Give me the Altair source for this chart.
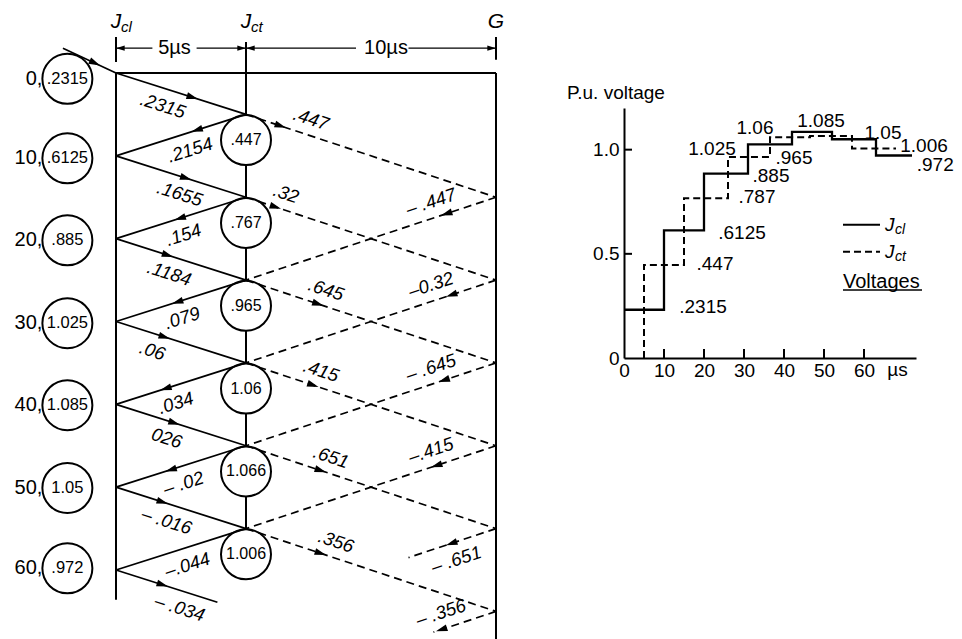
import math
import altair as alt
import pandas as pd

FONT = "Liberation Sans"

# ---------------- data ----------------
jcl_times = [0, 10, 20, 30, 40, 50, 60]
jcl_values = [0.2315, 0.6125, 0.885, 1.025, 1.085, 1.05, 0.972]
jcl_texts = [".2315", ".6125", ".885", "1.025", "1.085", "1.05", ".972"]
left_circle_t = [0.7, 10.3, 20.2, 30.2, 40.1, 50.1, 59.8]

jct_times = [5, 15, 25, 35, 45, 55]
jct_values = [0.447, 0.767, 0.965, 1.06, 1.066, 1.006]
jct_texts = [".447", ".767", ".965", "1.06", "1.066", "1.006"]

solid_down_labels = [".2315", ".1655", ".1184", ".06", "026", "– .016", "– .034"]
solid_up_labels = [".2154", ".154", ".079", ".034", "– .02", "–.044"]
dashed_down_labels = [".447", ".32", ".645", ".415", ".651", ".356"]
dashed_up_labels = ["– .447", "–0.32", "– .645", "–.415", "– .651", "– .356"]

# travelled length (µs) of each wave; the last ones are drawn only partly
solid_down_len = [5, 5, 5, 5, 5, 5, 3.9]
dashed_up_len = [10, 10, 10, 10, 3.5, 2.5]

# where the arrowheads / labels sit along each wave (fraction of full trip)
solid_down_arrow = [0.63, 0.58, 0.44, 0.415, 0.49, 0.4, 0.4]
solid_up_arrow = [0.42, 0.55, 0.57, 0.66, 0.62, None]
dashed_down_arrow = [0.16, 0.14, 0.31, 0.29, 0.32, 0.32]
dashed_up_arrow = [0.22, 0.2, 0.23, 0.26, 0.2, 0.24]
solid_down_labpos = [0.4, 0.53, 0.45, 0.32, 0.43, 0.43, 0.53]
solid_up_labpos = [0.47, 0.52, 0.53, 0.58, 0.52, 0.49]
dashed_down_labpos = [0.24, 0.14, 0.30, 0.28, 0.32, 0.34]
dashed_up_labpos = [0.24, 0.24, 0.24, 0.24, 0.18, 0.2]
dashed_up_side = ["above", "above", "above", "above", "below", "above"]

# incoming surge (start point)
incoming_start = (-2.04, -3.0)

# step chart
jcl_step_times = [0, 10, 20, 31, 42, 52, 63, 72]
jct_step_times = [5, 5, 15, 26, 36.5, 46.5, 57, 68]
step_label_text = [".2315", ".447", ".6125", ".787", ".885", "1.025", ".965",
                   "1.06", "1.085", "1.05", "1.006", ".972"]
step_label_t = [19.75, 22.75, 29.5, 33.25, 36.75, 22, 42.5, 32.75, 49.25, 64.75, 75.0, 77.8]
step_label_v = [0.245, 0.452, 0.601, 0.774, 0.875, 1.005, 0.962, 1.106, 1.14, 1.082, 1.02, 0.928]
x_ticks = [0, 10, 20, 30, 40, 50, 60]
y_ticks = [0, 0.5, 1.0]

# ---------------- layout ----------------
W, H = 946, 631
LAT_XR = [108, 238, 488]
LAT_YR = [65, 562]
PX_S = (LAT_XR[1] - LAT_XR[0]) / 5.0
PX_D = (LAT_XR[2] - LAT_XR[1]) / 10.0
PY = (LAT_YR[1] - LAT_YR[0]) / 60.0
CIRCLE_P = -1.87
CIRCLE_DROP = 3.1
ARROW = "M0,0L-1,-0.3L-1,0.3Z"

segs, arrows, labs = [], [], []


def wave(p0, t0, d, length, nominal, pxu, dash, af, lf, text, side):
    segs.append(dict(p1=p0, t1=t0, p2=p0 + d * length, t2=t0 + length, dash=dash))
    a_ang = math.degrees(math.atan2(PY, d * pxu)) % 360
    t_ang = math.degrees(math.atan2(d * PY, pxu)) % 360
    if af is not None:
        s = af * nominal
        arrows.append(dict(p=p0 + d * s, t=t0 + s, ang=a_ang))
    s = lf * nominal
    labs.append(dict(p=p0 + d * s, t=t0 + s, ang=t_ang, text=text, side=side))


for i, t in enumerate(jcl_times):
    wave(0, t, 1, solid_down_len[i], 5, PX_S, "solid", solid_down_arrow[i],
         solid_down_labpos[i], solid_down_labels[i], "below")
for i, t in enumerate(jct_times):
    wave(5, t, -1, 5, 5, PX_S, "solid", solid_up_arrow[i],
         solid_up_labpos[i], solid_up_labels[i], "below")
for i, t in enumerate(jct_times):
    wave(5, t, 1, 10, 10, PX_D, "dash", dashed_down_arrow[i],
         dashed_down_labpos[i], dashed_down_labels[i], "above")
for i, t in enumerate(jct_times):
    wave(15, t + 10, -1, dashed_up_len[i], 10, PX_D, "dash", dashed_up_arrow[i],
         dashed_up_labpos[i], dashed_up_labels[i], dashed_up_side[i])

# incoming surge
p0, t0 = incoming_start
segs.append(dict(p1=p0, t1=t0, p2=0, t2=0, dash="solid"))
inc_ang = math.degrees(math.atan2(-t0 * PY, -p0 * PX_S))
arrows.append(dict(p=p0 * 0.3, t=t0 * 0.3, ang=inc_ang))

segdf = pd.DataFrame(segs)
arrdf = pd.DataFrame(arrows)
labdf = pd.DataFrame(labs)

frame = pd.DataFrame(dict(
    p=[0, 0, 5, 15, 15],
    t1=[-4.35, 0, -3.75, -4.35, 0],
    t2=[-1.33, 63.6, 58, -1.6, 68.5],
))
top_line = pd.DataFrame(dict(p1=[0], p2=[15], t=[0]))
dim_segs = pd.DataFrame(dict(p1=[0, 3.1, 5, 11.5], p2=[1.4, 5, 9.4, 15], t=[-3.0] * 4))
dim_arrows = pd.DataFrame(dict(p=[0, 5, 5, 15], t=[-3.0] * 4, ang=[180, 0, 180, 0]))
dim_text = pd.DataFrame(dict(p=[2.25, 10.6], t=[-3.0, -3.0], text=["5µs", "10µs"]))
headers = pd.DataFrame(dict(p=[0, 5, 15], t=[-6.1] * 3, main=["J", "J", "G"], sub=["cl", "ct", ""]))

left_circ = pd.DataFrame(dict(p=[CIRCLE_P] * len(jcl_times), t=left_circle_t, text=jcl_texts,
                              time=[f"{t}," for t in jcl_times]))
jct_circ = pd.DataFrame(dict(p=[5] * len(jct_times), t=[t + CIRCLE_DROP for t in jct_times],
                             text=jct_texts))

lx = alt.Scale(domain=[0, 5, 15], range=LAT_XR, nice=False, zero=False)
ly = alt.Scale(domain=[0, 60], range=LAT_YR, nice=False, zero=False)


def LX(f):
    return alt.X(f, type="quantitative", scale=lx, axis=None)


def LY(f):
    return alt.Y(f, type="quantitative", scale=ly, axis=None)


base_seg = alt.Chart(segdf)
solid_layer = base_seg.transform_filter("datum.dash == 'solid'").mark_rule(
    color="black", strokeWidth=1.7).encode(x=LX("p1"), y=LY("t1"), x2="p2", y2="t2")
dash_layer = base_seg.transform_filter("datum.dash == 'dash'").mark_rule(
    color="black", strokeWidth=1.7, strokeDash=[8, 5]).encode(x=LX("p1"), y=LY("t1"), x2="p2", y2="t2")

frame_layer = alt.Chart(frame).mark_rule(color="black", strokeWidth=2).encode(
    x=LX("p"), y=LY("t1"), y2="t2")
top_layer = alt.Chart(top_line).mark_rule(color="black", strokeWidth=2).encode(
    x=LX("p1"), x2="p2", y=LY("t"))
dim_layer = alt.Chart(dim_segs).mark_rule(color="black", strokeWidth=1.3).encode(
    x=LX("p1"), x2="p2", y=LY("t"))
dim_arrow_layer = alt.Chart(dim_arrows).mark_point(
    shape=ARROW, filled=True, size=300, color="black", opacity=1, strokeWidth=0).encode(
    x=LX("p"), y=LY("t"), angle=alt.Angle("ang:Q", scale=None))
dim_text_layer = alt.Chart(dim_text).mark_text(
    font=FONT, fontSize=20, color="black", align="center", baseline="middle").encode(
    x=LX("p"), y=LY("t"), text="text:N")
header_layer = alt.Chart(headers).mark_text(
    font=FONT, fontSize=21, fontStyle="italic", color="black", align="center", baseline="middle").encode(
    x=LX("p"), y=LY("t"), text="main:N")
header_sub_layer = alt.Chart(headers).mark_text(
    font=FONT, fontSize=15, fontStyle="italic", color="black", align="left", baseline="middle",
    dx=5, dy=5).encode(x=LX("p"), y=LY("t"), text="sub:N")

arrow_layer = alt.Chart(arrdf).mark_point(
    shape=ARROW, filled=True, size=529, color="black", opacity=1, strokeWidth=0).encode(
    x=LX("p"), y=LY("t"), angle=alt.Angle("ang:Q", scale=None))

lab_below = alt.Chart(labdf).transform_filter("datum.side == 'below'").mark_text(
    font=FONT, fontSize=18.5, fontStyle="italic", color="black", align="center",
    baseline="middle", dy=17).encode(x=LX("p"), y=LY("t"), text="text:N",
                                    angle=alt.Angle("ang:Q", scale=None))
lab_above = alt.Chart(labdf).transform_filter("datum.side == 'above'").mark_text(
    font=FONT, fontSize=18.5, fontStyle="italic", color="black", align="center",
    baseline="middle", dy=-16).encode(x=LX("p"), y=LY("t"), text="text:N",
                                     angle=alt.Angle("ang:Q", scale=None))

circ_style = dict(shape="circle", size=2500, filled=True, fill="white", stroke="black",
                  strokeWidth=2, opacity=1)
left_circle_layer = alt.Chart(left_circ).mark_point(**circ_style).encode(x=LX("p"), y=LY("t"))
left_text_layer = alt.Chart(left_circ).mark_text(
    font=FONT, fontSize=16.5, color="black", align="center", baseline="middle").encode(
    x=LX("p"), y=LY("t"), text="text:N")
left_time_layer = alt.Chart(left_circ).mark_text(
    font=FONT, fontSize=20, color="black", align="right", baseline="middle", dx=-25).encode(
    x=LX("p"), y=LY("t"), text="time:N")
jct_circle_layer = alt.Chart(jct_circ).mark_point(**circ_style).encode(x=LX("p"), y=LY("t"))
jct_text_layer = alt.Chart(jct_circ).mark_text(
    font=FONT, fontSize=16, color="black", align="center", baseline="middle").encode(
    x=LX("p"), y=LY("t"), text="text:N")

# ---------------- step chart ----------------
sx = alt.Scale(domain=[0, 73], range=[616, 908], nice=False, zero=False)
sy = alt.Scale(domain=[0, 1.2], range=[350, 100], nice=False, zero=False)


def SX(f):
    return alt.X(f, type="quantitative", scale=sx, axis=None)


def SY(f):
    return alt.Y(f, type="quantitative", scale=sy, axis=None)


axis_common = dict(grid=False, ticks=False, domainColor="black", domainWidth=2,
                   labelFont=FONT, labelFontSize=19, labelColor="black",
                   labelOverlap=False, labelFlush=False)
x_axis = alt.Axis(values=x_ticks, orient="bottom", offset=350 - H, labelPadding=3,
                  title="µs", titleFont=FONT, titleFontSize=19, titleFontWeight="normal",
                  titleColor="black", titleX=889, titleY=11, titleAlign="center",
                  titleBaseline="middle", **axis_common)
y_axis = alt.Axis(values=y_ticks, orient="left", offset=-616, labelPadding=5, title=None,
                  labelExpr="datum.value == 0 ? '0' : format(datum.value, '.1f')",
                  **axis_common)

jcl_step = pd.DataFrame(dict(t=jcl_step_times, v=jcl_values + [jcl_values[-1]],
                             i=list(range(len(jcl_step_times)))))
jct_step = pd.DataFrame(dict(t=jct_step_times, v=[0] + jct_values + [jct_values[-1]],
                             i=list(range(len(jct_step_times)))))

jcl_line = alt.Chart(jcl_step).mark_line(interpolate="step-after", color="black", strokeWidth=2.3).encode(
    x=alt.X("t:Q", scale=sx, axis=x_axis), y=alt.Y("v:Q", scale=sy, axis=y_axis), order="i:Q")
jct_line = alt.Chart(jct_step).mark_line(interpolate="step-after", color="black", strokeWidth=2,
                                         strokeDash=[7, 4]).encode(
    x=SX("t"), y=SY("v"), order="i:Q")

xt = pd.DataFrame(dict(tick=x_ticks[1:]))
yt = pd.DataFrame(dict(tick=y_ticks[1:]))
x_tick_layer = alt.Chart(xt).mark_rule(color="black", strokeWidth=2, y2Offset=-9).encode(
    x=SX("tick"), y=alt.Y(datum=0, type="quantitative", scale=sy, axis=None), y2=alt.Y2(datum=0))
y_tick_layer = alt.Chart(yt).mark_rule(color="black", strokeWidth=2, x2Offset=8).encode(
    y=SY("tick"), x=alt.X(datum=0, type="quantitative", scale=sx, axis=None), x2=alt.X2(datum=0))

step_labels = pd.DataFrame(dict(t=step_label_t, v=step_label_v, text=step_label_text))
step_label_layer = alt.Chart(step_labels).mark_text(
    font=FONT, fontSize=19, color="black", align="center", baseline="middle").encode(
    x=SX("t"), y=SY("v"), text="text:N")

title_df = pd.DataFrame(dict(t=[-14.25], v=[1.274], text=["P.u. voltage"]))
title_layer = alt.Chart(title_df).mark_text(
    font=FONT, fontSize=19, color="black", align="left", baseline="middle").encode(
    x=SX("t"), y=SY("v"), text="text:N")

leg = pd.DataFrame(dict(t1=[54.75, 54.75], t2=[64, 64], v=[0.64, 0.51], main=["J", "J"],
                        sub=["cl", "ct"], style=["solid", "dash"], tx=[65.25, 65.25]))
leg_solid = alt.Chart(leg).transform_filter("datum.style == 'solid'").mark_rule(
    color="black", strokeWidth=2).encode(x=SX("t1"), x2="t2", y=SY("v"))
leg_dash = alt.Chart(leg).transform_filter("datum.style == 'dash'").mark_rule(
    color="black", strokeWidth=2, strokeDash=[7, 4]).encode(x=SX("t1"), x2="t2", y=SY("v"))
leg_main = alt.Chart(leg).mark_text(
    font=FONT, fontSize=19, fontStyle="italic", color="black", align="left", baseline="middle").encode(
    x=SX("tx"), y=SY("v"), text="main:N")
leg_sub = alt.Chart(leg).mark_text(
    font=FONT, fontSize=14, fontStyle="italic", color="black", align="left", baseline="middle",
    dx=10, dy=5).encode(x=SX("tx"), y=SY("v"), text="sub:N")
volt = pd.DataFrame(dict(t=[54.75], t2=[74.5], v=[0.365], vu=[0.327], text=["Voltages"]))
volt_text = alt.Chart(volt).mark_text(
    font=FONT, fontSize=20, color="black", align="left", baseline="middle").encode(
    x=SX("t"), y=SY("v"), text="text:N")
volt_line = alt.Chart(volt).mark_rule(color="black", strokeWidth=1.5).encode(
    x=SX("t"), x2="t2", y=SY("vu"))

chart = alt.layer(
    jcl_line, jct_line, x_tick_layer, y_tick_layer, step_label_layer, title_layer,
    leg_solid, leg_dash, leg_main, leg_sub, volt_text, volt_line,
    frame_layer, top_layer, dim_layer, dim_arrow_layer, dim_text_layer,
    header_layer, header_sub_layer,
    left_circle_layer, left_text_layer, left_time_layer,
    jct_circle_layer, jct_text_layer,
    solid_layer, dash_layer, arrow_layer, lab_below, lab_above,
).resolve_scale(
    x="independent", y="independent"
).properties(
    width=W, height=H, padding=0, autosize=alt.AutoSizeParams(type="none"),
    background="white",
).configure_view(stroke=None)

chart.save("out.html", embed_options={"renderer": "svg", "actions": False})
